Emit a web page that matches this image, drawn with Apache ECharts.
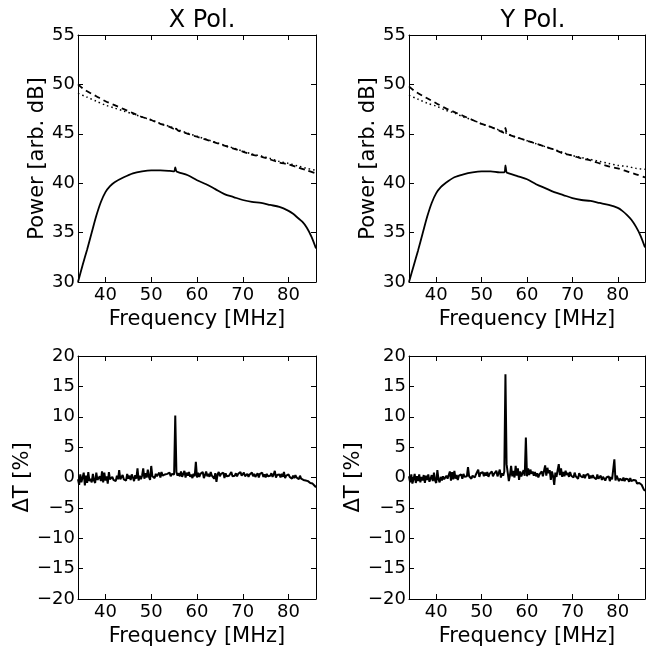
<!DOCTYPE html>
<html><head><meta charset="utf-8">
<script src="https://cdn.jsdelivr.net/npm/echarts@6/dist/echarts.min.js"></script>
<style>html,body{margin:0;padding:0;background:#fff}#c{width:648px;height:648px}</style>
</head><body><div id="c"></div>
<script>
// ---- Data ----
var panelTitles = ['X Pol.', 'Y Pol.'];
var powerTicks = [30, 35, 40, 45, 50, 55];
var dtTicks = [-20, -15, -10, -5, 0, 5, 10, 15, 20];
var freqTicks = [40, 50, 60, 70, 80];

// Power spectra (top panels)
var freqSolid = [34,35,36,37,38,39,40,41,42,44,46,48,50,52,54,55,55.25,55.5,56,58,60,62,64,66,68,70,72,74,76,78,80,81,82,83,84,85,86];
var xSolid = [30.0,31.7,33.3,35.0,36.7,38.1,39.1,39.7,40.1,40.6,41.0,41.2,41.3,41.3,41.25,41.2,41.6,41.2,41.1,40.8,40.3,39.9,39.4,38.9,38.6,38.3,38.1,38.0,37.8,37.6,37.2,36.9,36.5,36.1,35.5,34.6,33.4];
var ySolid = [30.0,31.6,33.2,34.9,36.6,38.0,39.0,39.6,40.0,40.6,40.9,41.1,41.2,41.2,41.1,41.1,41.8,41.1,41.0,40.7,40.4,39.9,39.5,39.1,38.8,38.5,38.3,38.2,38.0,37.8,37.5,37.2,36.8,36.3,35.6,34.7,33.5];

var freqDash = [34,35,36,38,40,42,44,46,48,50,52,54,55,55.25,55.5,56,58,60,62,64,66,68,70,72,74,76,78,80,82,84,86];
var xDash = [50.0,49.6,49.3,48.8,48.3,47.9,47.5,47.1,46.7,46.4,46.0,45.7,45.5,45.7,45.5,45.3,45.0,44.7,44.4,44.1,43.8,43.5,43.2,42.9,42.7,42.4,42.1,41.9,41.6,41.3,41.0];
var yDash = [49.8,49.4,49.1,48.6,48.1,47.6,47.2,46.8,46.4,46.0,45.7,45.3,45.1,45.6,45.1,44.9,44.6,44.3,44.0,43.7,43.4,43.0,42.8,42.5,42.3,42.0,41.7,41.5,41.2,40.9,40.6];

var freqDot = [34,36,38,40,42,44,46,48,50,52,54,56,58,60,62,64,66,68,70,72,74,76,78,80,82,84,86];
var xDot = [49.1,48.7,48.3,47.9,47.6,47.3,47.0,46.7,46.4,46.05,45.75,45.4,45.05,44.75,44.45,44.15,43.85,43.55,43.25,42.95,42.75,42.5,42.2,42.0,41.75,41.5,41.3];
var yDot = [48.9,48.5,48.1,47.8,47.4,47.1,46.7,46.4,46.0,45.7,45.35,44.95,44.6,44.3,44.0,43.7,43.4,43.1,42.8,42.6,42.4,42.2,42.0,41.8,41.7,41.5,41.4];

// Delta T (bottom panels), sampled every 0.25 MHz from 34 to 86
var dtStart = 34, dtStep = 0.25;
var xDeltaT = [
 -0.3,-1.2,0.5,-0.8,  -1.0,0.8,-1.3,0.3,  -0.9,0.9,-0.6,-0.2,  -0.8,0.6,-0.5,-0.9,
 0.8,-0.4,-0.7,0.2,   -0.6,1.0,-0.8,0.8,  -0.5,0.2,-1.0,0.9,   -0.3,-0.6,0.1,-0.4,
 -0.2,-0.6,0.3,-0.3,  1.2,-0.3,-0.1,0.4,  -0.3,0.0,-0.5,0.6,   -0.2,0.3,-0.4,0.5,
 0.0,-0.6,0.4,-0.2,   1.5,-0.5,0.3,-0.3,  0.3,1.5,-0.2,0.7,    0.0,1.3,0.1,-0.4,
 1.9,0.2,0.5,-0.1,    0.6,0.2,0.4,0.8,    0.0,0.9,0.3,0.1,     0.5,0.2,0.6,0.3,
 0.8,0.2,0.6,0.4,     0.5,10.2,0.9,0.3,   0.7,0.2,1.0,0.1,     0.6,1.1,0.0,0.8,
 0.3,0.9,0.1,0.5,     -0.1,0.6,0.2,2.6,   0.0,0.8,0.1,0.6,     0.3,0.9,-0.1,0.4,
 1.0,0.2,0.6,0.1,     0.9,0.3,0.6,-0.2,   0.7,-0.7,0.5,0.9,    0.2,0.6,0.3,0.8,
 -0.1,0.7,0.2,0.5,    0.3,0.6,0.9,0.2,    0.5,0.3,0.7,0.2,     0.6,0.4,0.9,0.3,
 0.5,0.8,0.2,0.4,     0.6,0.1,0.5,0.3,    0.8,0.2,0.6,0.1,     0.4,0.7,0.0,0.6,
 0.3,0.8,0.1,0.5,     0.0,0.6,0.2,0.4,    0.3,0.7,0.1,0.5,     1.1,0.0,0.4,0.2,
 0.5,0.0,0.6,0.1,     0.9,-0.1,0.3,0.0,   0.5,0.1,0.4,-0.2,    0.3,-0.1,0.4,0.0,
 0.2,-0.3,0.3,-0.2,   0.1,-0.4,-0.1,-0.5, -0.2,-0.6,-0.3,-0.9, -0.7,-1.0,-1.1,-1.4,
 -1.6];
var yDeltaT = [
 0.2,-0.8,0.5,-1.0,   -0.3,0.6,-0.9,0.2,  -0.6,0.5,-0.8,0.1,   -0.5,0.4,-0.9,0.3,
 -0.4,0.5,-0.7,-0.2,  0.4,-0.6,0.8,-0.5,  -0.9,1.2,-0.3,-0.8,  0.1,-0.5,0.2,-0.3,
 -0.6,0.3,-0.2,0.1,   1.0,-0.5,0.9,-0.3,  1.1,-0.2,0.4,-0.4,   0.3,0.0,0.5,-0.2,
 0.6,0.1,0.3,0.2,     1.7,0.2,0.4,-0.2,   0.3,0.6,0.0,0.5,     0.2,1.3,0.1,0.7,
 0.4,0.9,0.2,0.8,     0.3,0.9,0.1,0.6,    0.5,1.0,0.2,0.6,     0.4,1.1,0.2,0.7,
 1.3,0.0,0.7,0.3,     1.0,17.0,2.2,0.8,   -0.6,0.4,1.9,0.2,    1.1,0.0,1.9,0.3,
 1.5,-0.4,1.0,0.2,    0.5,1.2,0.3,6.6,    0.2,1.5,0.4,1.3,     0.6,1.0,0.3,0.9,
 0.2,0.7,0.0,0.5,     0.4,1.0,0.2,0.5,    2.0,0.3,1.6,0.7,     1.2,-0.4,1.0,0.2,
 -1.2,0.8,0.1,1.2,    2.2,0.4,1.5,0.1,    0.9,0.2,1.1,0.4,     0.8,0.1,0.9,0.3,
 0.6,0.0,0.8,0.2,     0.5,-0.2,0.7,0.3,   0.6,0.0,0.5,-0.1,    0.4,0.1,0.6,-0.2,
 0.3,-0.1,0.4,0.0,    0.2,-0.3,0.5,-0.2,  0.0,0.3,-0.4,0.1,    0.3,-0.5,0.0,-0.3,
 0.2,-0.6,0.1,-0.3,   -0.1,3.0,-0.5,0.3,  0.0,-0.6,-0.2,-0.3,  -0.5,0.0,-0.6,-0.2,
 -0.4,-0.3,-0.7,-0.1, -0.6,-0.8,-0.4,-0.5, -0.5,-1.0,-0.7,-0.9, -1.1,-1.2,-1.5,-2.0,
 -2.2];

// ---- Helpers ----
function pairs(xs, ys) { return xs.map(function (x, i) { return [x, ys[i]]; }); }
function gridPairs(start, step, ys) { return ys.map(function (y, i) { return [start + i * step, y]; }); }

var FONT = 'DejaVu Sans';
var grids = [
  { left: 78, top: 35, width: 238, height: 247 },
  { left: 409, top: 35, width: 238, height: 247 },
  { left: 78, top: 356, width: 238, height: 247 },
  { left: 409, top: 356, width: 238, height: 247 }
];
var lineStyleAxis = { color: '#000', width: 1 };
function fmtNum(v) { return String(v).replace('-', '\u2212'); }

var xAxes = [], yAxes = [];
grids.forEach(function (g, i) {
  var top = i < 2;
  xAxes.push({
    type: 'value', gridIndex: i, min: 34, max: 86, minInterval: 10, maxInterval: 10,
    position: 'bottom',
    name: 'Frequency [MHz]', nameLocation: 'middle', nameGap: 27,
    nameTextStyle: { fontFamily: FONT, fontSize: 21, color: '#000' },
    axisLine: { show: true, onZero: false, lineStyle: lineStyleAxis },
    axisTick: { show: true, inside: true, length: 5, lineStyle: lineStyleAxis },
    axisLabel: { fontFamily: FONT, fontSize: 18, color: '#000', margin: 4,
      formatter: function (v) { return freqTicks.indexOf(v) >= 0 ? String(v) : ''; } },
    splitLine: { show: false }
  });
  xAxes.push({
    type: 'value', gridIndex: i, min: 34, max: 86, minInterval: 10, maxInterval: 10,
    position: 'top',
    axisLine: { show: true, onZero: false, lineStyle: lineStyleAxis },
    axisTick: { show: true, inside: true, length: 5, lineStyle: lineStyleAxis },
    axisLabel: { show: false }, splitLine: { show: false }
  });
  var ticks = top ? powerTicks : dtTicks;
  yAxes.push({
    type: 'value', gridIndex: i, min: ticks[0], max: ticks[ticks.length - 1], interval: 5,
    position: 'left',
    name: top ? 'Power [arb. dB]' : '\u0394T [%]', nameLocation: 'middle',
    nameGap: top ? 30 : 45,
    nameTextStyle: { fontFamily: FONT, fontSize: 21, color: '#000' },
    axisLine: { show: true, onZero: false, lineStyle: lineStyleAxis },
    axisTick: { show: true, inside: true, length: 5, lineStyle: lineStyleAxis },
    axisLabel: { fontFamily: FONT, fontSize: 18, color: '#000', margin: 3, formatter: fmtNum },
    splitLine: { show: false }
  });
  yAxes.push({
    type: 'value', gridIndex: i, min: ticks[0], max: ticks[ticks.length - 1], interval: 5,
    position: 'right',
    axisLine: { show: true, onZero: false, lineStyle: lineStyleAxis },
    axisTick: { show: true, inside: true, length: 5, lineStyle: lineStyleAxis },
    axisLabel: { show: false }, splitLine: { show: false }
  });
});

function line(i, data, type, width, smooth) {
  return {
    type: 'line', xAxisIndex: i * 2, yAxisIndex: i * 2, data: data,
    showSymbol: false, symbol: 'none', smooth: smooth ? 0.3 : false, animation: false,
    lineStyle: { color: '#000', width: width, type: type }, z: 3, clip: true
  };
}

var series = [
  line(0, pairs(freqDash, xDash), [6, 4], 1.8, true),
  line(0, pairs(freqDot, xDot), [1.5, 3], 1.5, true),
  line(0, pairs(freqSolid, xSolid), 'solid', 1.8, true),
  line(1, pairs(freqDash, yDash), [6, 4], 1.8, true),
  line(1, pairs(freqDot, yDot), [1.5, 3], 1.5, true),
  line(1, pairs(freqSolid, ySolid), 'solid', 1.8, true),
  line(2, gridPairs(dtStart, dtStep, xDeltaT), 'solid', 2, false),
  line(3, gridPairs(dtStart, dtStep, yDeltaT), 'solid', 2, false)
];

var chart = echarts.init(document.getElementById('c'), null, { renderer: 'canvas' });
chart.setOption({
  backgroundColor: '#fff',
  animation: false,
  title: [
    { text: panelTitles[0], left: 197, top: 4, textAlign: 'center',
      textStyle: { fontFamily: FONT, fontSize: 24, fontWeight: 'normal', color: '#000' } },
    { text: panelTitles[1], left: 528, top: 4, textAlign: 'center',
      textStyle: { fontFamily: FONT, fontSize: 24, fontWeight: 'normal', color: '#000' } }
  ],
  grid: grids,
  xAxis: xAxes,
  yAxis: yAxes,
  series: series
});
</script>
</body></html>
